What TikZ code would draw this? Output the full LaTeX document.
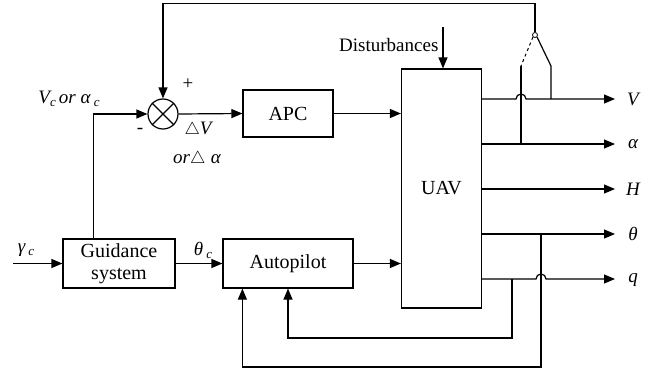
\documentclass[tikz,border=0pt]{standalone}
\usepackage{fontspec}
\setmainfont{Liberation Serif}
\usetikzlibrary{arrows.meta}
\newcommand\sbc[1]{\raisebox{-0.35ex}{\fontsize{13}{13}\selectfont #1}}
\begin{document}
\begin{tikzpicture}[x=1pt,y=-1pt,line width=1.2pt,
  >={Triangle[length=11pt,width=9pt]},
  box/.style={draw,line width=1.2pt,inner sep=0pt,font=\fontsize{20}{21}\selectfont},
  lab/.style={inner sep=0pt,font=\fontsize{19}{21}\selectfont\itshape},
  txt/.style={inner sep=0pt,font=\fontsize{19}{21}\selectfont}]
\useasboundingbox (0,0) rectangle (654,375);
% blocks
\node[box,minimum width=90pt,minimum height=47pt] (apc) at (288,113.5) {APC};
\node[box,minimum width=80pt,minimum height=239pt] (uav) at (441.5,188.5) {UAV};
\node[box,minimum width=130pt,minimum height=49pt] (ap) at (288,263.5) {Autopilot};
\node[box,minimum width=112pt,minimum height=49pt,align=center,font=\fontsize{20}{22}\selectfont] (gs) at (119,263.5) {Guidance\\system};
\node[draw,circle,minimum size=30pt,inner sep=0pt] (sum) at (163,114) {};
\draw (sum.north west) -- (sum.south east) (sum.north east) -- (sum.south west);
\node[draw,circle,minimum size=5pt,inner sep=0pt,line width=0.8pt] (sw) at (535,35) {};
% labels
\node[txt,anchor=east] (dist) at (439,45) {Disturbances};
\node[lab] (lv) at (633,99) {V};
\node[lab] (la) at (633,144) {α};
\node[lab] (lh) at (633,189) {H};
\node[lab] (lt) at (633,234) {θ};
\node[lab] (lq) at (633,280) {q};
\node[lab] (lgam) at (26,250) {γ\,\sbc{c}};
\node[lab] (lthc) at (203,250) {θ\,\sbc{c}};
\node[lab] (lvc) at (69,99) {V\sbc{c}\,or α\,\sbc{c}};
\node[txt] (plus) at (188,84) {+};
\node[txt] (minus) at (140,131) {-};
\node[lab] (ldv) at (198,130) {$\triangle$V};
\node[lab] (lda) at (197,159) {or$\triangle$\;α};
% coordinates
\coordinate (d0) at (443,27);
\coordinate (in) at (13,263.5);
\coordinate (eV) at (615,99);
\coordinate (eA) at (615,144);
\coordinate (eH) at (615,189);
\coordinate (eT) at (615,234);
\coordinate (eQ) at (615,279);
\coordinate (s1) at (551,66);
\coordinate (s2) at (521,66);
% connectors
\draw[->] (sum.east) -- (apc.west);
\draw[->] (apc.east) -- (apc.east -| uav.west);
\draw[->] (ap.east) -- (ap.east -| uav.west);
\draw[->] (gs.east) -- (ap.west);
\draw[->] (in) -- (gs.west);
\draw[->] ([xshift=31pt]gs.north west) |- (sum.west);
\draw[->] (d0) -- (d0 |- uav.north);
\draw[->] (sw.north) -- ++(0,-29) -| (sum.north);
% switch
\draw (sw.south east) -- (s1) -- (s1 |- eV);
\draw[dashed,line width=1pt] (sw.south west) -- (s2);
\draw (s2) -- (s2 |- eA);
% outputs
\draw[->] (uav.east |- eV) -- (516,99) arc[start angle=180,end angle=360,radius=5] -- (eV);
\draw[->] (uav.east |- eA) -- (eA);
\draw[->] (uav.east |- eH) -- (eH);
\draw[->] (uav.east |- eT) -- (eT);
\draw[->] (uav.east |- eQ) -- (536,279) arc[start angle=180,end angle=360,radius=5] -- (eQ);
% feedback loops
\draw[->] (541,234) -- (541,367) -| ([xshift=20pt]ap.south west);
\draw[->] (512,279) -- (512,338) -| (ap.south -| 288,0);
\end{tikzpicture}
\end{document}
